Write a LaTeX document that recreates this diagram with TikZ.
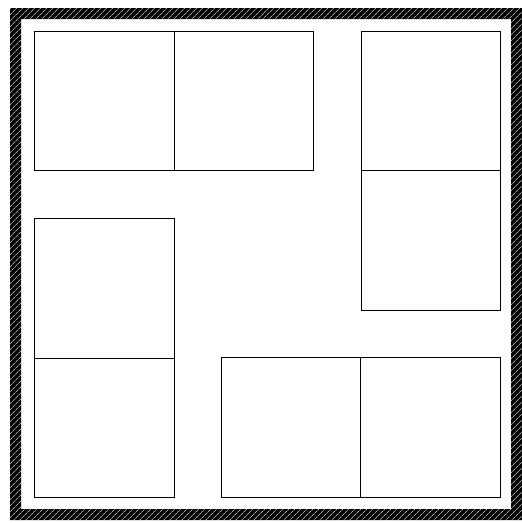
\documentclass[tikz,border=0pt]{standalone}
\usetikzlibrary{positioning, patterns.meta}

\begin{document}
\begin{tikzpicture}[
    x=1pt, y=-1pt,
    cell/.style={draw, line width=1.4pt, minimum width=139.5pt, minimum height=139.5pt, inner sep=0pt, outer sep=0pt},
    wall/.style={pattern={Lines[angle=45, distance=4pt, line width=0.6pt]}, pattern color=white}
]

    \useasboundingbox (0,0) rectangle (522,523);

    % Hatched outer wall
    \fill[black, even odd rule] (10,8) rectangle (522,520) (21,19) rectangle (511,509);
    \fill[wall, even odd rule] (10,8) rectangle (522,520) (21,19) rectangle (511,509);

    % Top left pair
    \node[cell] (tl1) at (104.5,101) {};
    \node[cell, right=0pt of tl1] (tl2) {};

    % Right column
    \node[cell] (rc1) at (431,101) {};
    \node[cell, below=0pt of rc1] (rc2) {};

    % Left column
    \node[cell] (lc1) at (104.5,288.5) {};
    \node[cell, below=0pt of lc1] (lc2) {};

    % Bottom pair
    \node[cell] (bp1) at (291,427.5) {};
    \node[cell, right=0pt of bp1] (bp2) {};

\end{tikzpicture}
\end{document}
